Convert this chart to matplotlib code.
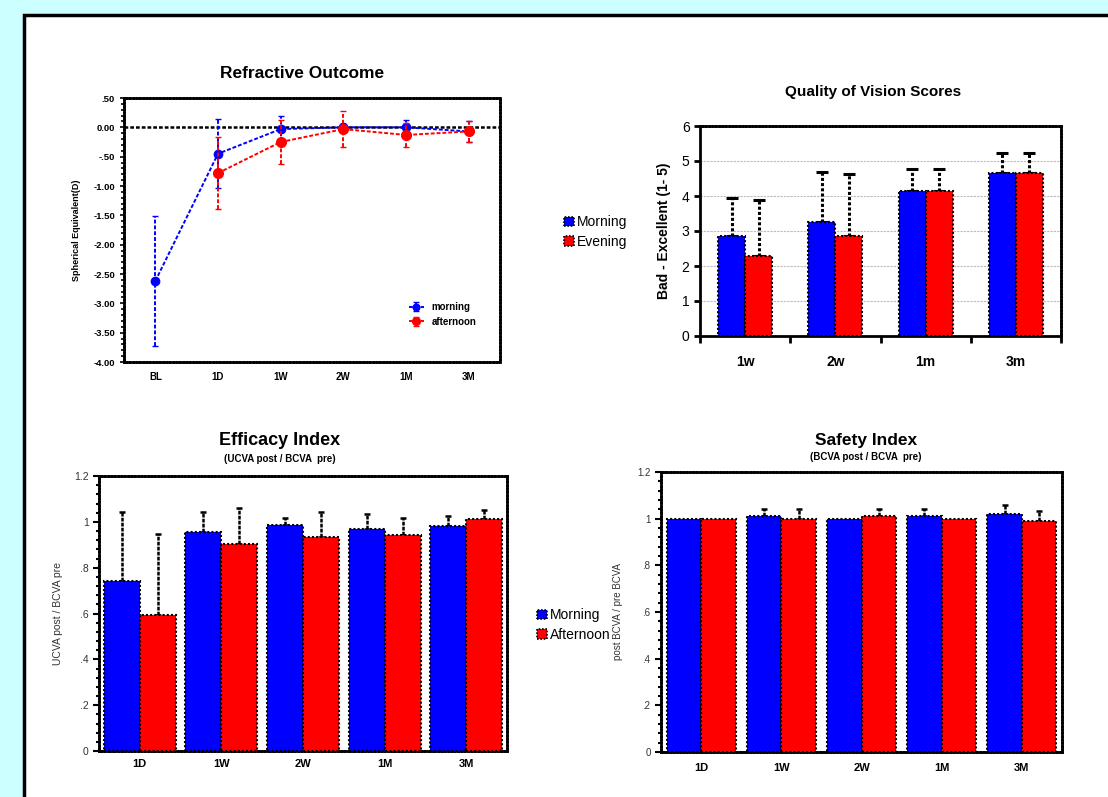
import matplotlib.pyplot as plt
import matplotlib.patches as patches
from matplotlib.ticker import MultipleLocator, FixedLocator
import numpy as np

plt.rcParams['font.family'] = ['Liberation Sans', 'DejaVu Sans']

# --- Refractive outcome data ---
refr_cats = ['BL', '1D', '1W', '2W', '1M', '3M']
refr_morning = [-2.62, -0.45, -0.03, 0.0, 0.0, -0.07]
refr_morning_err = [1.11, 0.59, 0.22, 0.05, 0.12, 0.18]
refr_afternoon = [None, -0.78, -0.25, -0.03, -0.13, -0.07]
refr_afternoon_err = [None, 0.62, 0.37, 0.30, 0.20, 0.18]

# --- Quality of vision data ---
qov_cats = ['1w', '2w', '1m', '3m']
qov_morning = [2.87, 3.27, 4.15, 4.65]
qov_morning_err = [1.08, 1.41, 0.63, 0.58]
qov_evening = [2.30, 2.87, 4.15, 4.65]
qov_evening_err = [1.58, 1.75, 0.63, 0.58]

# --- Efficacy index data ---
eff_cats = ['1D', '1W', '2W', '1M', '3M']
eff_morning = [0.74, 0.956, 0.988, 0.97, 0.98]
eff_morning_err = [0.303, 0.087, 0.029, 0.066, 0.045]
eff_afternoon = [0.595, 0.902, 0.934, 0.941, 1.011]
eff_afternoon_err = [0.35, 0.158, 0.109, 0.076, 0.039]

# --- Safety index data ---
saf_cats = ['1D', '1W', '2W', '1M', '3M']
saf_morning = [1.0, 1.012, 1.0, 1.012, 1.022]
saf_morning_err = [0.0, 0.028, 0.0, 0.028, 0.035]
saf_afternoon = [1.0, 1.0, 1.012, 1.0, 0.988]
saf_afternoon_err = [0.0, 0.04, 0.028, 0.0, 0.046]

BLUE = '#0000FF'
RED = '#FF0000'

fig = plt.figure(figsize=(11.08, 7.97), dpi=100)
fig.patch.set_facecolor('#CCFFFF')
W, H = 1108.0, 797.0

# white panel with black border
panel = patches.Rectangle((24 / W, -0.02), 1.0, (797 - 15) / H + 0.02,
                          transform=fig.transFigure, facecolor='white',
                          edgecolor='black', linewidth=2.5, zorder=-10)
fig.patches.append(panel)


def axes_px(x0, y0, x1, y1):
    return fig.add_axes([x0 / W, (H - y1) / H, (x1 - x0) / W, (y1 - y0) / H])


def dotted_frame(ax, solid=()):
    for name, sp in ax.spines.items():
        sp.set_color('black')
        if name in solid:
            sp.set_linewidth(2)
        else:
            sp.set_linewidth(2)
            sp.set_linestyle((0, (0.6, 0.6)))


# ---------------- Refractive Outcome ----------------
ax1 = axes_px(124, 98, 500, 362)
x = np.arange(len(refr_cats))
ax1.axhline(0, color='black', linestyle=(0, (1.5, 0.8)), linewidth=1.8, zorder=1)
eb = ax1.errorbar(x, refr_morning, yerr=refr_morning_err, color=BLUE,
                  linestyle=(0, (2, 1)), linewidth=1.4, marker='o', markersize=6,
                  capsize=2.5, elinewidth=1.4, label='morning', zorder=3)
eb[2][0].set_linestyle((0, (2, 1)))
xa = x[1:]
ya = refr_afternoon[1:]
ea = refr_afternoon_err[1:]
eb = ax1.errorbar(xa, ya, yerr=ea, color=RED, linestyle=(0, (2, 1)), linewidth=1.4,
                  marker='o', markersize=7, capsize=2.5, elinewidth=1.4,
                  label='afternoon', zorder=4)
eb[2][0].set_linestyle((0, (2, 1)))
ax1.set_xlim(-0.5, 5.5)
ax1.set_ylim(-4.0, 0.5)
ax1.set_xticks(x)
ax1.set_xticklabels(refr_cats, fontsize=7, fontweight='bold')
yt = np.arange(-4.0, 0.51, 0.5)
ax1.set_yticks(yt)
lbls = []
for v in yt:
    if abs(v) < 1e-9:
        lbls.append('0.00')
    elif abs(v) < 1:
        lbls.append(('-' if v < 0 else '') + '.50')
    else:
        lbls.append('%.2f' % v)
ax1.set_yticklabels(lbls, fontsize=6.8, fontweight='bold')
ax1.yaxis.set_minor_locator(MultipleLocator(0.1))
ax1.tick_params(axis='x', length=0, pad=7)
ax1.tick_params(axis='y', which='major', length=3, width=1.2)
ax1.tick_params(axis='y', which='minor', length=2, width=1.2)
ax1.set_ylabel('Spherical Equivalent(D)', fontsize=6.5, fontweight='bold', labelpad=9)
dotted_frame(ax1)
leg = ax1.legend(loc='lower right', bbox_to_anchor=(0.96, 0.1), frameon=False,
                 prop={'size': 7, 'weight': 'bold'}, handlelength=1.5,
                 markerscale=0.8)
fig.text(302 / W, 1 - 73 / H, 'Refractive Outcome', ha='center', va='center',
         fontsize=12.5, fontweight='bold')

# ---------------- Quality of Vision ----------------
ax2 = axes_px(700, 126, 1061, 336)
x = np.arange(len(qov_cats))
bw = 0.3
ax2.bar(x - bw / 2, qov_morning, bw, color=BLUE, edgecolor='black',
        linewidth=1.5, linestyle=(0, (1, 1)), zorder=3, label='Morning')
ax2.bar(x + bw / 2, qov_evening, bw, color=RED, edgecolor='black',
        linewidth=1.5, linestyle=(0, (1, 1)), zorder=3, label='Evening')
for off, vals, errs in ((-bw / 2, qov_morning, qov_morning_err),
                        (bw / 2, qov_evening, qov_evening_err)):
    eb = ax2.errorbar(x + off, vals, yerr=[np.zeros(4), errs],
                      fmt='none', ecolor='black', capsize=4, elinewidth=2.2,
                      capthick=2.2, zorder=2)
    eb[2][0].set_linestyle((0, (1, 0.7)))
ax2.set_xlim(-0.5, 3.5)
ax2.set_ylim(0, 6)
ax2.set_yticks(range(7))
ax2.set_yticklabels([str(i) for i in range(7)], fontsize=10)
ax2.yaxis.grid(True, color='#BBBBBB', linestyle=(0, (2, 1)), linewidth=0.8, zorder=0)
ax2.set_axisbelow(True)
ax2.xaxis.set_major_locator(FixedLocator(np.arange(-0.5, 3.6, 1.0)))
ax2.set_xticklabels([])
ax2.xaxis.set_minor_locator(FixedLocator(x))
ax2.set_xticklabels(qov_cats, minor=True, fontsize=10, fontweight='bold')
ax2.tick_params(axis='x', which='major', length=5, width=2, direction='out')
ax2.tick_params(axis='x', which='minor', length=0, pad=14)
ax2.tick_params(axis='y', length=4, width=2)
ax2.set_ylabel('Bad - Excellent (1- 5)', fontsize=10, fontweight='bold', labelpad=8)
dotted_frame(ax2, solid=('left', 'bottom'))
fig.text(873 / W, 1 - 92 / H, 'Quality of Vision Scores', ha='center',
         va='center', fontsize=11, fontweight='bold')

h1 = patches.Patch(facecolor=BLUE, edgecolor='black', linestyle=(0, (1, 1)), linewidth=1.2)
h2 = patches.Patch(facecolor=RED, edgecolor='black', linestyle=(0, (1, 1)), linewidth=1.2)
fig.legend([h1, h2], ['Morning', 'Evening'], loc='center left',
           bbox_to_anchor=(557 / W, 1 - 232 / H), frameon=False,
           prop={'size': 10}, handlelength=0.7, handleheight=0.7,
           handletextpad=0.25, labelspacing=0.4, borderpad=0)


def index_chart(ax, cats, m, m_err, a, a_err, ylabel, lw_gap=0.44):
    x = np.arange(len(cats))
    ax.bar(x - lw_gap / 2, m, lw_gap, color=BLUE, edgecolor='black',
           linewidth=1.5, linestyle=(0, (1, 1)), zorder=3)
    ax.bar(x + lw_gap / 2, a, lw_gap, color=RED, edgecolor='black',
           linewidth=1.5, linestyle=(0, (1, 1)), zorder=3)
    for off, vals, errs in ((-lw_gap / 2, m, m_err), (lw_gap / 2, a, a_err)):
        xs = [xi + off for xi, e in zip(x, errs) if e > 0]
        vs = [v for v, e in zip(vals, errs) if e > 0]
        es = [e for e in errs if e > 0]
        if xs:
            eb = ax.errorbar(xs, vs, yerr=[np.zeros(len(es)), es], fmt='none',
                             ecolor='black', capsize=2, elinewidth=1.8,
                             capthick=1.8, zorder=2)
            eb[2][0].set_linestyle((0, (1.5, 0.5)))
    ax.set_xlim(-0.5, len(cats) - 0.5)
    ax.set_ylim(0, 1.2)
    ax.set_xticks(x)
    ax.set_xticklabels(cats, fontsize=8, fontweight='bold')
    ax.set_yticks([0, 0.2, 0.4, 0.6, 0.8, 1.0, 1.2])
    ax.set_yticklabels(['0', '.2', '.4', '.6', '.8', '1', '1.2'], fontsize=7.5,
                       color='#333333')
    ax.yaxis.set_minor_locator(MultipleLocator(0.04))
    ax.tick_params(axis='x', length=0, pad=6)
    ax.tick_params(axis='y', which='major', length=4, width=1.5)
    ax.tick_params(axis='y', which='minor', length=2.5, width=1.5)
    ax.set_ylabel(ylabel, fontsize=7.5, color='#333333', labelpad=8)
    dotted_frame(ax)


# ---------------- Efficacy Index ----------------
ax3 = axes_px(99, 476, 507, 751)
index_chart(ax3, eff_cats, eff_morning, eff_morning_err, eff_afternoon,
            eff_afternoon_err, 'UCVA post / BCVA pre')
fig.text(280 / W, 1 - 441 / H, 'Efficacy Index', ha='center', va='center',
         fontsize=13, fontweight='bold')
fig.text(280 / W, 1 - 459 / H, '(UCVA post / BCVA  pre)', ha='center',
         va='center', fontsize=7, fontweight='bold')
fig.legend([h1, h2], ['Morning', 'Afternoon'], loc='center left',
           bbox_to_anchor=(530 / W, 1 - 625 / H), frameon=False,
           prop={'size': 10}, handlelength=0.7, handleheight=0.7,
           handletextpad=0.25, labelspacing=0.4, borderpad=0)

# ---------------- Safety Index ----------------
ax4 = axes_px(661, 472, 1062, 752)
index_chart(ax4, saf_cats, saf_morning, saf_morning_err, saf_afternoon,
            saf_afternoon_err, 'post BCVA / pre BCVA', lw_gap=0.43)
ax4.set_yticklabels(['0', '.2', '.4', '.6', '.8', '1', '1.2'], fontsize=7,
                    color='#333333')
ax4.set_ylabel('post BCVA / pre BCVA', fontsize=7, color='#333333', labelpad=10)
ax4.tick_params(axis='x', pad=8)
fig.text(866 / W, 1 - 440 / H, 'Safety Index', ha='center', va='center',
         fontsize=12.5, fontweight='bold')
fig.text(866 / W, 1 - 457 / H, '(BCVA post / BCVA  pre)', ha='center',
         va='center', fontsize=7, fontweight='bold')

fig.savefig('out.png', dpi=100, facecolor=fig.get_facecolor())
